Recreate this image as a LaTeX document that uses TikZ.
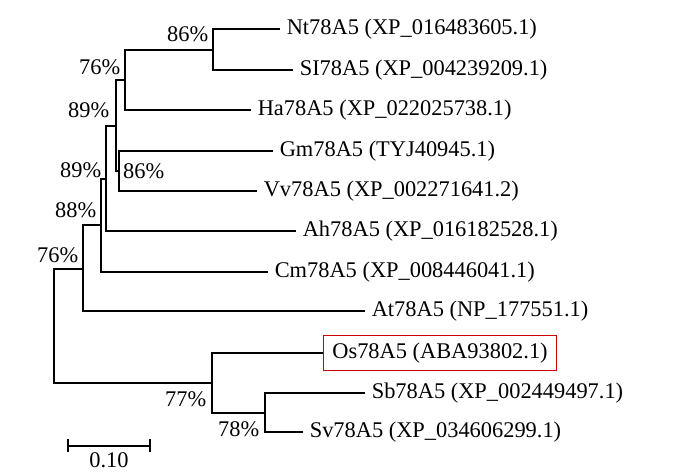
\documentclass[tikz,border=0pt]{standalone}
\usepackage{fontspec}
\setmainfont{Liberation Serif}
\usetikzlibrary{arrows.meta}

\begin{document}
\begin{tikzpicture}[x=0.5pt,y=-0.5pt,line width=0.8pt,
  font=\fontsize{11.2}{13}\selectfont,
  leaf node/.style={anchor=west,inner xsep=3pt,inner ysep=1pt},
  mark node/.style={leaf node,draw=red!80!black,line width=0.6pt,inner xsep=4.4pt,inner ysep=3.5pt},
  boot node/.style={inner sep=0pt},
  boot above/.style={boot node,anchor=east,xshift=-2pt,yshift=#1},
  boot below/.style={boot node,anchor=east,xshift=-2.5pt,yshift=-8pt},
  elbow/.style={to path={|- (\tikztotarget)}}]
  \useasboundingbox (0,0) rectangle (700,474);

  % leaves
  \node[leaf node] (1) at (280,29) {Nt78A5 (XP\_016483605.1)};
  \node[leaf node] (2) at (293,70) {SI78A5 (XP\_004239209.1)};
  \node[leaf node] (3) at (251,110) {Ha78A5 (XP\_022025738.1)};
  \node[leaf node] (4) at (273,151) {Gm78A5 (TYJ40945.1)};
  \node[leaf node] (5) at (257,191) {Vv78A5 (XP\_002271641.2)};
  \node[leaf node] (6) at (296,231) {Ah78A5 (XP\_016182528.1)};
  \node[leaf node] (7) at (268,272) {Cm78A5 (XP\_008446041.1)};
  \node[leaf node] (8) at (365,311) {At78A5 (NP\_177551.1)};
  \node[mark node] (9) at (323,353) {Os78A5 (ABA93802.1)};
  \node[leaf node] (10) at (365,393) {Sb78A5 (XP\_002449497.1)};
  \node[leaf node] (11) at (303,432) {Sv78A5 (XP\_034606299.1)};

  % inner nodes
  \coordinate (12) at (213,50);
  \coordinate (13) at (125,80);
  \coordinate (14) at (119,171);
  \coordinate (15) at (116,126);
  \coordinate (16) at (106,179);
  \coordinate (17) at (101,225);
  \coordinate (18) at (83,269);
  \coordinate (19) at (265,413);
  \coordinate (20) at (212,383);
  \coordinate (21) at (54,326);

  \path[draw,elbow]
    (12) edge (1.west)
    (12) edge (2.west)
    (13) edge (12)
    (13) edge (3.west)
    (14) edge (4.west)
    (14) edge (5.west)
    (15) edge (13)
    (15) edge (14)
    (16) edge (15)
    (16) edge (6.west)
    (17) edge (16)
    (17) edge (7.west)
    (18) edge (17)
    (18) edge (8.west)
    (19) edge (10.west)
    (19) edge (11.west)
    (20) edge (9.west)
    (20) edge (19)
    (21) edge (18)
    (21) edge (20);

  % bootstrap values
  \node[boot above=8pt] at (12) {86\%};
  \node[boot above=6.5pt] at (13) {76\%};
  \node[boot node,anchor=west,xshift=1.7pt] at (14) {86\%};
  \node[boot above=8pt,xshift=-1pt] at (15) {89\%};
  \node[boot above=4.5pt] at (16) {89\%};
  \node[boot above=7.5pt] at (17) {88\%};
  \node[boot above=7pt] at (18) {76\%};
  \node[boot below] at (20) {77\%};
  \node[boot below] at (19) {78\%};

  % scale bar
  \coordinate (s1) at (67,446);
  \coordinate (s2) at (151,446);
  \draw[{Bar[width=6.5pt]}-{Bar[width=6.5pt]}] (s1) -- (s2);
  \node[boot node] (s3) at (109,460) {0.10};
\end{tikzpicture}
\end{document}
